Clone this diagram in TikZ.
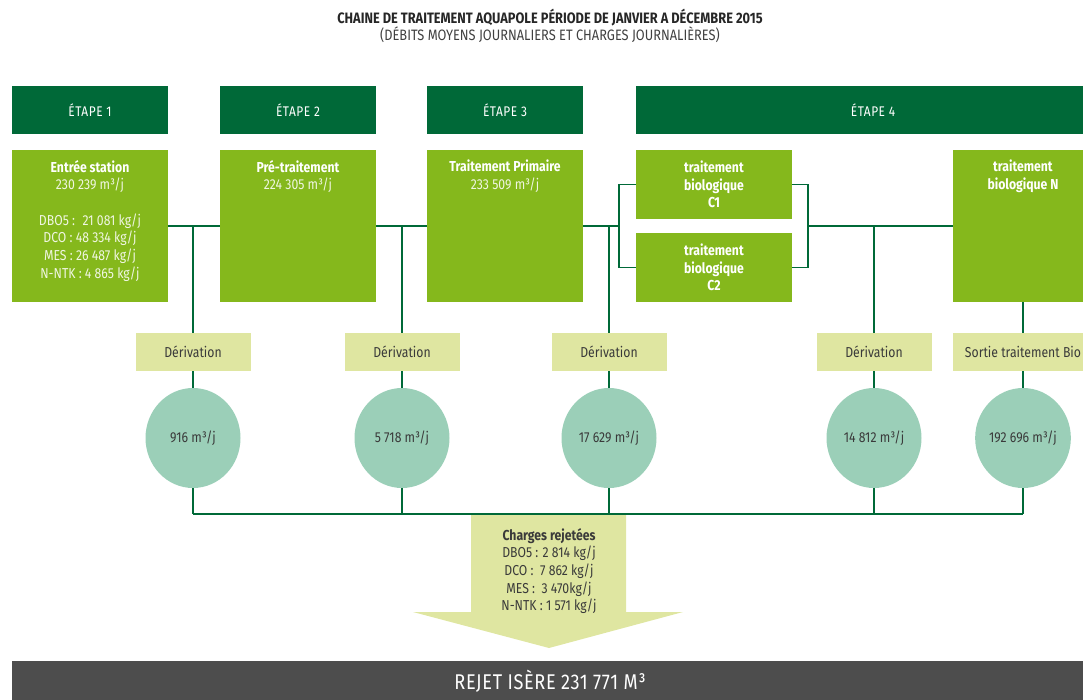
\documentclass[tikz,border=0pt]{standalone}
\usepackage{fontspec}
\setmainfont[FakeStretch=0.85]{Fira Sans}
\usetikzlibrary{shapes.geometric}
\definecolor{dgreen}{RGB}{0,105,56}
\definecolor{lgreen}{RGB}{133,184,28}
\definecolor{pale}{RGB}{223,230,161}
\definecolor{mint}{RGB}{155,207,184}
\definecolor{barc}{RGB}{77,77,77}
\definecolor{tdark}{RGB}{58,58,58}
\definecolor{vals}{RGB}{240,246,226}
\newcommand\gtext[2][117pt]{\parbox[c][114pt][t]{#1}{\centering\fontsize{10.8}{13.3}\selectfont\vspace*{7.5pt}#2}}
\begin{document}
\begin{tikzpicture}[x=0.75pt,y=-0.75pt,
  font=\fontsize{10.8}{13.3}\selectfont,
  etape/.style={fill=dgreen, text=white, minimum height=36pt, inner sep=0pt,
    font=\fontsize{10.5}{12}\selectfont\addfontfeature{LetterSpace=4}},
  gbox/.style={fill=lgreen, text=white, inner sep=0pt},
  cbox/.style={fill=lgreen, text=white, minimum width=117pt, minimum height=51.75pt,
    inner sep=0pt, align=center, font=\fontsize{10.8}{13.3}\selectfont\bfseries},
  der/.style={fill=pale, text=tdark, minimum width=86.25pt, minimum height=28.5pt, inner sep=0pt},
  circ/.style={ellipse, fill=mint, text=tdark, minimum width=71.25pt, minimum height=75pt, inner sep=0pt},
  link/.style={draw=dgreen, line width=1.3pt}
]
\useasboundingbox (0,0) rectangle (1083,700);

% title
\node[text=black!85, font=\fontsize{11.3}{13}\selectfont\bfseries] (title) at (550,18)
  {CHAINE DE TRAITEMENT AQUAPOLE PÉRIODE DE JANVIER A DÉCEMBRE 2015};
\node[text=black!75, font=\fontsize{11.3}{13}\selectfont] (sub) at (550,35)
  {(DÉBITS MOYENS JOURNALIERS ET CHARGES JOURNALIÈRES)};

% étapes
\node[etape, minimum width=117pt] (e1) at (90,110) {ÉTAPE 1};
\node[etape, minimum width=117pt] (e2) at (298,110) {ÉTAPE 2};
\node[etape, minimum width=117pt] (e3) at (505,110) {ÉTAPE 3};
\node[etape, minimum width=355.5pt] (e4) at (873,110) {ÉTAPE 4};

% green boxes
\node[gbox] (entree) at (90,226) {\gtext{\textbf{Entrée station}\\\textcolor{vals}{230 239 m³/j}\\[13.3pt]
  \textcolor{vals}{DBO5 :~ 21 081 kg/j}\\\textcolor{vals}{DCO : 48 334 kg/j}\\\textcolor{vals}{MES : 26 487 kg/j}\\\textcolor{vals}{N-NTK : 4 865 kg/j}}};
\node[gbox] (pre) at (298,226) {\gtext{\textbf{Pré-traitement}\\\textcolor{vals}{224 305 m³/j}}};
\node[gbox] (prim) at (505,226) {\gtext{\textbf{Traitement Primaire}\\\textcolor{vals}{233 509 m³/j}}};
\node[cbox] (bc1) at (714,184.5) {traitement\\biologique\\C1};
\node[cbox] (bc2) at (714,267.5) {traitement\\biologique\\C2};
\node[gbox] (bion) at (1023,226) {\gtext[105pt]{\textbf{traitement}\\\textbf{biologique N}}};

% dérivations
\node[der] (d1) at (193,352) {Dérivation};
\node[der] (d2) at (402,352) {Dérivation};
\node[der] (d3) at (609,352) {Dérivation};
\node[der] (d4) at (874,352) {Dérivation};
\node[der, minimum width=105pt] (d5) at (1023,352) {Sortie traitement Bio};

% circles
\node[circ] (c1) at (193,438) {916 m³/j};
\node[circ] (c2) at (402,438) {5 718 m³/j};
\node[circ] (c3) at (609,438) {17 629 m³/j};
\node[circ] (c4) at (874,438) {14 812 m³/j};
\node[circ] (c5) at (1023,438) {192 696 m³/j};

% arrow
\fill[pale] (471,514) -- (626,514) -- (626,612) -- (683,612) -- (549,648) -- (413,612) -- (471,612) -- cycle;
\node[align=center, text=tdark] (charges) at (549,571)
  {\textbf{Charges rejetées}\\DBO5 : 2 814 kg/j\\DCO :~ 7 862 kg/j\\MES :~ 3 470kg/j\\N-NTK : 1 571 kg/j};

% bottom bar
\node[fill=barc, minimum width=807pt, minimum height=30pt, inner sep=0pt, text=white,
  font=\fontsize{16}{18}\selectfont\addfontfeature{LetterSpace=3}] (rejet) at (550,681) {REJET ISÈRE 231 771 M³};

% connectors
\coordinate (jl) at (619,226);
\coordinate (jr) at (808,226);
\coordinate (bl) at (193,514);
\coordinate (br) at (1023,514);
\draw[link] (entree.east) -- (pre.west);
\draw[link] (pre.east) -- (prim.west);
\draw[link] (prim.east) -- (jl);
\draw[link] (bc1.west) -| (jl) |- (bc2.west);
\draw[link] (bc1.east) -| (jr) |- (bc2.east);
\draw[link] (jr) -- (bion.west);
\draw[link] (d1.north) -- (d1.north |- entree.east);
\draw[link] (d2.north) -- (d2.north |- pre.east);
\draw[link] (d3.north) -- (d3.north |- prim.east);
\draw[link] (d4.north) -- (d4.north |- jr);
\draw[link] (d5.north) -- (bion.south);
\foreach \i in {1,...,5}{
  \draw[link] (d\i.south) -- (c\i.north);
  \draw[link] (c\i.south) -- (c\i.south |- bl);
}
\draw[link] (bl) -- (br);
\end{tikzpicture}
\end{document}
